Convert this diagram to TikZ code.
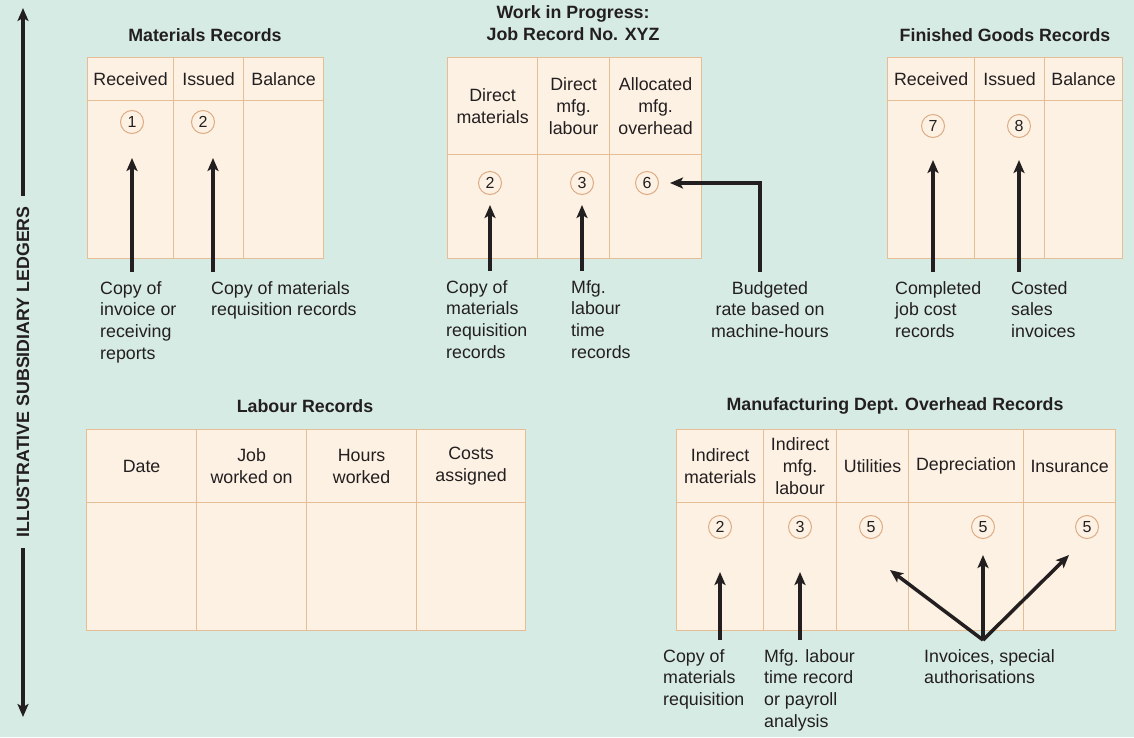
\documentclass[tikz,border=0pt]{standalone}
\usepackage{fontspec}
\setmainfont{Liberation Sans}
\usepackage{tikz}
\usetikzlibrary{arrows.meta, calc}
\newcommand{\ledgerfont}{\fontsize{17.8}{21.8}\selectfont}
\definecolor{mintbg}{RGB}{215,235,229}
\definecolor{paper}{RGB}{253,241,227}
\definecolor{edge}{RGB}{230,190,150}
\definecolor{ring}{RGB}{222,172,132}
\definecolor{ink}{RGB}{35,31,32}
\tikzset{>={Stealth[length=13pt,width=11pt,inset=3pt]}}
\tikzset{
	cell/.style={draw=edge, fill=paper, line width=1.2pt, inner sep=0pt, anchor=north west, align=center},
	num/.style={circle, draw=ring, line width=1pt, minimum size=23pt, inner sep=0pt, font=\fontsize{16}{16}\selectfont},
	lbl/.style={align=left, anchor=north west, inner xsep=0pt, inner ysep=9pt},
	ttl/.style={font=\ledgerfont\bfseries, align=center},
	arr/.style={->, line width=3.5pt, draw=ink}
}

\begin{document}
\begin{tikzpicture}[x=1pt, y=-1pt, font=\ledgerfont, text=ink]
	
	\fill[mintbg] (0,0) rectangle (1134,737);
	\useasboundingbox (0,0) rectangle (1134,737);
	
	% side arrow
	\node[ttl, rotate=90, inner xsep=10pt] (ledg) at (23,372) {ILLUSTRATIVE SUBSIDIARY LEDGERS};
	\coordinate (topend) at (23,8);
	\coordinate (botend) at (23,717);
	\draw[->, line width=4.5pt, draw=ink] (ledg.east) -- (topend);
	\draw[->, line width=4.5pt, draw=ink] (ledg.west) -- (botend);
	
	% materials records
	\node[ttl] (mtitle) at (205,35) {Materials Records};
	\foreach \x/\w/\t [count=\i] in {87/86/Received, 173/70/Issued, 243/80/Balance} {
		\node[cell, minimum width=\w, minimum height=43] (mh\i) at (\x,57) {\t};
		\node[cell, minimum width=\w, minimum height=158] (mb\i) at (\x,100) {};
	}
	\node[num] (mcA) at (132,122) {1};
	\node[num] (mcB) at (203,122) {2};
	\node[lbl] (mlA) at (100,272) {Copy of\\invoice or\\receiving\\reports};
	\node[lbl] (mlB) at (211,272) {Copy of materials\\requisition records};
	\draw[arr] (mlA.north -| mcA) -- ++(0,-114);
	\draw[arr] ([xshift=2pt]mlB.north west) -- ++(0,-114);
	
	% work in progress
	\node[ttl] (wtitle) at (573,23.5) {Work in Progress:\\Job Record No. XYZ};
	\foreach \x/\w/\t [count=\i] in {447/90/{Direct\\materials}, 537/72/{Direct\\mfg.\\labour}, 609/92/{Allocated\\mfg.\\overhead}} {
		\node[cell, minimum width=\w, minimum height=97] (wh\i) at (\x,57) {\t};
		\node[cell, minimum width=\w, minimum height=104] (wb\i) at (\x,154) {};
	}
	\node[num] (wcA) at (490,183) {2};
	\node[num] (wcB) at (582,183) {3};
	\node[num] (wcC) at (647,183) {6};
	\node[lbl] (wlA) at (446,271) {Copy of\\materials\\requisition\\records};
	\node[lbl] (wlB) at (571,271) {Mfg.\\labour\\time\\records};
	\node[lbl, anchor=north, align=center] (bud) at (770,272) {Budgeted\\rate based on\\machine-hours};
	\draw[arr] (wlA.north -| wcA) -- ++(0,-66);
	\draw[arr] (wlB.north -| wcB) -- ++(0,-66);
	\draw[arr] ([xshift=-10pt]bud.north) |- ([xshift=11pt]wcC.east);
	
	% finished goods
	\node[ttl] (ftitle) at (1005,35) {Finished Goods Records};
	\foreach \x/\w/\t [count=\i] in {887/87/Received, 974/70/Issued, 1044/78/Balance} {
		\node[cell, minimum width=\w, minimum height=43] (fh\i) at (\x,57) {\t};
		\node[cell, minimum width=\w, minimum height=158] (fb\i) at (\x,100) {};
	}
	\node[num] (fcA) at (933,126) {7};
	\node[num] (fcB) at (1019,126) {8};
	\node[lbl] (flA) at (895,272) {Completed\\job cost\\records};
	\node[lbl] (flB) at (1011,272) {Costed\\sales\\invoices};
	\draw[arr] (flA.north -| fcA) -- ++(0,-112);
	\draw[arr] (flB.north -| fcB) -- ++(0,-112);
	
	% labour records
	\node[ttl] (ltitle) at (305,406) {Labour Records};
	\foreach \x/\w/\t [count=\i] in {86/110/Date, 196/110/{Job\\worked on}, 306/110/{Hours\\worked}, 416/109/{Costs\\assigned}} {
		\node[cell, minimum width=\w, minimum height=73] (lh\i) at (\x,429) {\t};
		\node[cell, minimum width=\w, minimum height=128] (lb\i) at (\x,502) {};
	}
	
	% overhead records
	\node[ttl] (otitle) at (895,406) {Manufacturing Dept. Overhead Records};
	\foreach \x/\w/\t [count=\i] in {676/87/{Indirect\\materials}, 763/73/{Indirect\\mfg.\\labour}, 836/72/Utilities, 908/115/Depreciation, 1023/92/Insurance} {
		\node[cell, minimum width=\w, minimum height=73] (oh\i) at (\x,429) {\t};
		\node[cell, minimum width=\w, minimum height=128] (ob\i) at (\x,502) {};
	}
	\node[num] (ocA) at (720,527) {2};
	\node[num] (ocB) at (800,527) {3};
	\node[num] (ocC) at (871,527) {5};
	\node[num] (ocD) at (983,527) {5};
	\node[num] (ocE) at (1087,527) {5};
	\node[lbl] (olA) at (663,640) {Copy of\\materials\\requisition};
	\node[lbl] (olB) at (764,640) {Mfg. labour\\time record\\or payroll\\analysis};
	\node[lbl] (olC) at (924,640) {Invoices, special\\authorisations};
	\draw[arr] (olA.north -| ocA) -- ++(0,-68);
	\draw[arr] (olB.north -| ocB) -- ++(0,-68);
	\draw[arr] (ocD |- olC.north) -- ($(ocC)+(19,43)$);
	\draw[arr] (ocD |- olC.north) -- ($(ocD)+(0,28)$);
	\draw[arr] (ocD |- olC.north) -- ($(ocE)+(-18,28)$);
	
\end{tikzpicture}
\end{document}
